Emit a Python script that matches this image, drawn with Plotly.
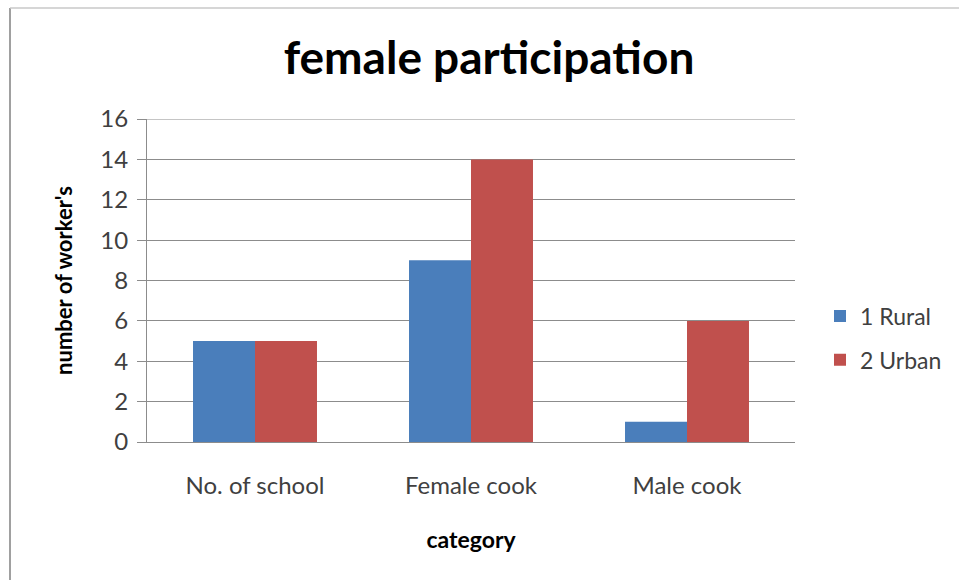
import plotly.graph_objects as go

categories = ["No. of school", "Female cook", "Male cook"]
rural = [5, 9, 1]
urban = [5, 14, 6]
series_names = ["1 Rural", "2 Urban"]
y_ticks = [0, 2, 4, 6, 8, 10, 12, 14, 16]

FONT = "Lato"
W, H = 959, 580
ML, MR, MT, MB = 147, 164, 119, 138
PW, PH = W - ML - MR, H - MT - MB

def px_x(x):
    return (x - ML) / PW

def px_y(y):
    return (H - MB - y) / PH

fig = go.Figure()
fig.add_trace(go.Bar(x=categories, y=rural, name=series_names[0],
                     marker=dict(color="#4A7EBB", line=dict(width=0)),
                     legendgroup="a"))
fig.add_trace(go.Bar(x=categories, y=urban, name=series_names[1],
                     marker=dict(color="#C0504D", line=dict(width=0)),
                     legendgroup="b"))

fig.update_layout(
    width=W, height=H,
    margin=dict(l=ML, r=MR, t=MT, b=MB),
    paper_bgcolor="white", plot_bgcolor="white",
    barmode="group", bargap=0.426, bargroupgap=0,
    font=dict(family=FONT, color="#404040"),
    title=dict(text="<b>female participation</b>", x=px_x(489), xref="paper",
               xanchor="center", y=1 - 58 / H, yanchor="middle",
               font=dict(size=46, color="black", family=FONT)),
    legend=dict(x=px_x(820), y=px_y(338), xanchor="left", yanchor="middle",
                font=dict(size=23, color="#404040", family=FONT),
                tracegroupgap=11, bgcolor="rgba(0,0,0,0)"),
    showlegend=True,
)

fig.update_yaxes(range=[0, 16], tickvals=y_ticks, showgrid=True,
                 gridcolor="#8C8C8C", gridwidth=1,
                 showline=True, linecolor="#8C8C8C", linewidth=1,
                 ticks="outside", ticklen=9, tickcolor="#8C8C8C",
                 ticklabelstandoff=4,
                 tickfont=dict(size=24, color="#404040"),
                 title=dict(text="<b>number of worker's</b>", standoff=21,
                            font=dict(size=22, color="black")),
                 zeroline=False)
fig.update_xaxes(showline=True, linecolor="#8C8C8C", linewidth=1,
                 ticks="", ticklabelstandoff=22,
                 tickfont=dict(size=24, color="#404040"),
                 title=dict(text="<b>category</b>", standoff=34,
                            font=dict(size=23, color="black")))

# top gridline at the axis maximum
fig.add_shape(type="line", xref="paper", yref="y",
              x0=0, x1=1, y0=y_ticks[-1], y1=y_ticks[-1],
              line=dict(color="#8C8C8C", width=1))

# outer chart frame (left and top edges)
fig.add_shape(type="line", xref="paper", yref="paper",
              x0=px_x(10), x1=px_x(10), y0=px_y(580), y1=px_y(8),
              line=dict(color="#A0A0A0", width=2))
fig.add_shape(type="line", xref="paper", yref="paper",
              x0=px_x(10), x1=px_x(959), y0=px_y(8), y1=px_y(8),
              line=dict(color="#C8C8C8", width=1.5))

fig.write_html("out.html")
